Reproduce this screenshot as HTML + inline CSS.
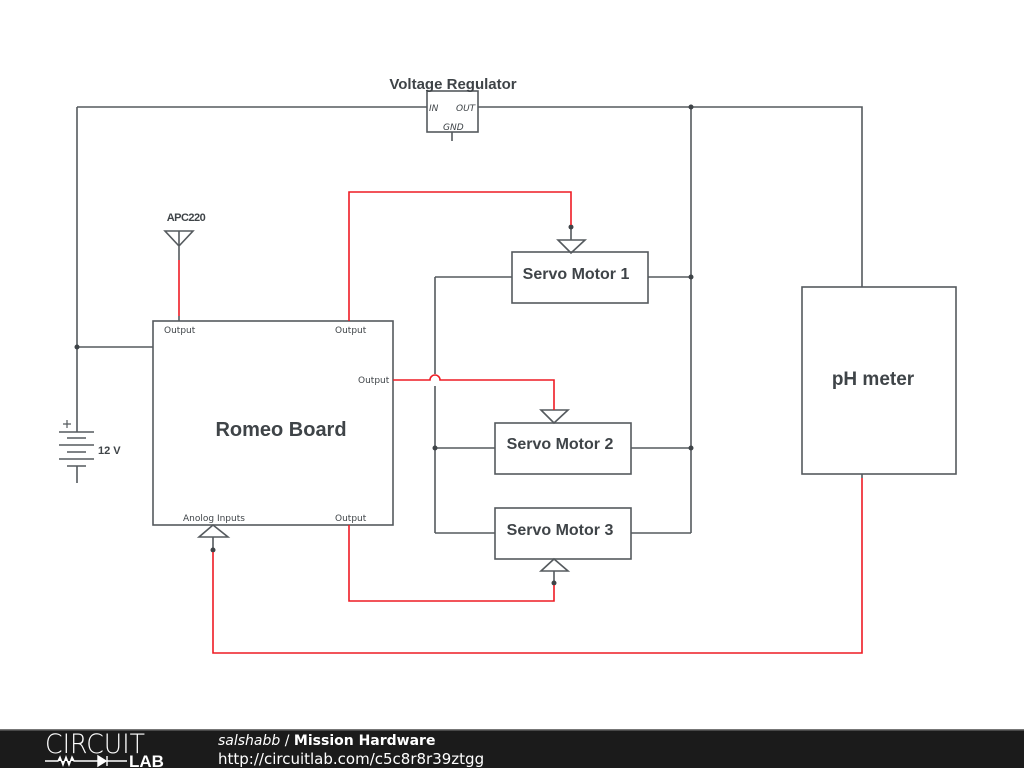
<!DOCTYPE html>
<html><head><meta charset="utf-8"><style>
html,body{margin:0;padding:0;background:#fff;width:1024px;height:768px;overflow:hidden}
svg{display:block}
text{font-family:"DejaVu Sans","Liberation Sans",sans-serif;fill:#3f4448}
.b{font-family:"Liberation Sans","DejaVu Sans",sans-serif;font-weight:bold}
</style></head><body>
<svg width="1024" height="768" viewBox="0 0 1024 768">
<g stroke="#555a5e" stroke-width="1.6" fill="none">
<path d="M77 107H427M478 107H862V287"/>
<rect x="427" y="91" width="51" height="41" fill="#fff"/>
<path d="M452 132V141"/>
<path d="M77 107V432M77 347H153"/>
<path d="M59 432H94M67 438H86M59 445H94M67 452H86M59 459H94M67 466H86M77 466V483"/>
<path d="M63 424H71M67 420V428" stroke-width="1.2"/>
<rect x="153" y="321" width="240" height="204" fill="#fff"/>
<path d="M165 231H193L179 246Z M179 231V260M179 316V321"/>
<path d="M691 107V533M648 277H691M631 448H691M631 533H691"/>
<path d="M435 277V374 M435 386V533 M435 277H512 M435 448H495 M435 533H495"/>
<rect x="512" y="252" width="136" height="51" fill="#fff"/>
<rect x="495" y="423" width="136" height="51" fill="#fff"/>
<rect x="495" y="508" width="136" height="51" fill="#fff"/>
<rect x="802" y="287" width="154" height="187" fill="#fff"/>
<path d="M558 240H585L571 253Z M571 227V240"/>
<path d="M541 410H568L554 423Z"/>
<path d="M541 571H568L554 559Z M554 571V583"/>
<path d="M199 537H228L213 525Z M213 537V550"/>
<path d="M862 474V478"/>
</g>
<g fill="#3f4448">
<circle cx="77" cy="347" r="2.5"/><circle cx="691" cy="107" r="2.5"/><circle cx="691" cy="277" r="2.5"/><circle cx="691" cy="448" r="2.5"/><circle cx="435" cy="448" r="2.5"/>
<circle cx="571" cy="227" r="2.5"/><circle cx="554" cy="583" r="2.5"/><circle cx="213" cy="550" r="2.5"/>
</g>
<g stroke="#ee1c24" stroke-width="1.6" fill="none">
<path d="M179 260V316"/>
<path d="M349 321V192H571V225"/>
<path d="M393 380H430A5 5 0 0 1 440 380H554V410"/>
<path d="M349 525V601H554V585"/>
<path d="M862 478V653H213V552"/>
</g>
<text class="b" x="453" y="89" font-size="15" text-anchor="middle">Voltage Regulator</text>
<text x="429" y="111" font-size="9" font-style="italic">IN</text>
<text x="456" y="111" font-size="9" font-style="italic">OUT</text>
<text x="443" y="130" font-size="9" font-style="italic">GND</text>
<text class="b" x="186" y="221" font-size="11" text-anchor="middle" letter-spacing="-0.5">APC220</text>
<text class="b" x="98" y="454" font-size="11">12 V</text>
<text x="164" y="333" font-size="9">Output</text>
<text x="335" y="333" font-size="9">Output</text>
<text x="358" y="383" font-size="9">Output</text>
<text x="335" y="521" font-size="9">Output</text>
<text x="183" y="521" font-size="9">Anolog Inputs</text>
<text class="b" x="281" y="436" font-size="20" text-anchor="middle">Romeo Board</text>
<text class="b" x="576" y="279" font-size="16" text-anchor="middle">Servo Motor 1</text>
<text class="b" x="560" y="449" font-size="16" text-anchor="middle">Servo Motor 2</text>
<text class="b" x="560" y="535" font-size="16" text-anchor="middle">Servo Motor 3</text>
<text class="b" x="873" y="385" font-size="19" text-anchor="middle">pH meter</text>
<rect x="0" y="729" width="1024" height="39" fill="#1b1b1b"/>
<rect x="0" y="729" width="1024" height="1.5" fill="#777"/>
<text x="95" y="753" font-size="27" style="fill:#fff;font-family:'DejaVu Sans',sans-serif;font-weight:200" text-anchor="middle" textLength="100" lengthAdjust="spacingAndGlyphs">CIRCUIT</text>
<path d="M45 761H58L60 757L63 765L66 757L69 765L72 757L74 761H98M98 756V766L106 761Z M107 756V766M107 761H127" stroke="#fff" stroke-width="1.4" fill="#fff"/>
<text class="b" x="129" y="767" font-size="17" style="fill:#fff">LAB</text>
<text x="218" y="745" font-size="14" style="fill:#fff"><tspan font-style="italic">salshabb</tspan> / <tspan font-weight="bold">Mission Hardware</tspan></text>
<text x="218" y="764" font-size="15" style="fill:#fff">http://circuitlab.com/c5c8r8r39ztgg</text>
</svg>
</body></html>
